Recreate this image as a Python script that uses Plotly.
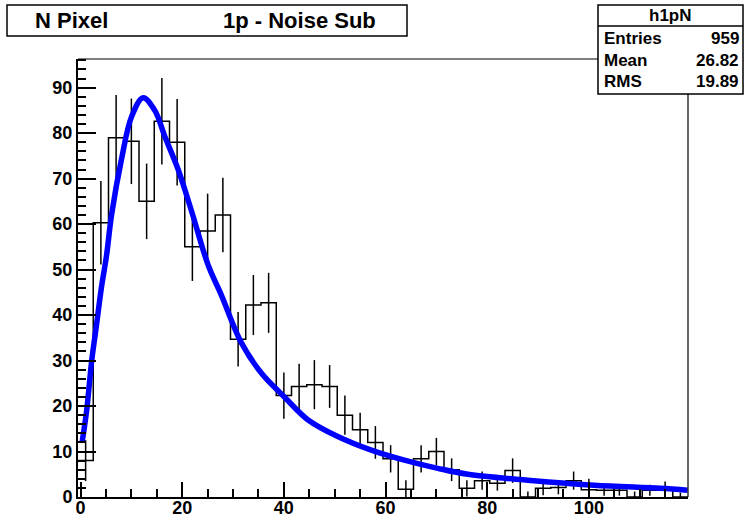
import plotly.graph_objects as go

# ---------------- data ----------------
bin_start = -0.5
bin_width = 3.0
counts = [8, 60.3, 79, 78.2, 65, 82.6, 78, 55, 58.5, 62,
          34.7, 42.2, 42.7, 22.3, 24.3, 24.7, 24.3, 18, 14.8, 12,
          8.4, 1.7, 8.4, 10, 6, 1.9, 3.6, 3.0, 5.8, 0,
          1.9, 2.1, 3.6, 1.6, 1.5, 1.5, 0, 1.5, 1.5, 0]
errors = [4.5, 9.2, 9.4, 9.4, 8.3, 9.5, 9.5, 7.5, 8.2, 8.2,
          6.0, 6.6, 6.6, 5.1, 5.0, 5.4, 4.7, 4.3, 3.7, 3.6,
          3.0, 2.0, 3.0, 3.0, 2.5, 1.8, 2.0, 1.6, 2.7, 1.2,
          1.5, 1.5, 2.0, 2.4, 1.2, 1.2, 1.2, 1.2, 1.9, 1.0]
fit_x = [0.3, 1.2, 2.2, 3.1, 4.1, 5.1, 6.1, 8.1, 10.0, 12.3, 14.6, 16.6,
         19.2, 21.8, 25.1, 27.7, 31.6, 35.6, 40.1, 44.7, 50.6, 57.2,
         63.7, 70.3, 76.2, 88.0, 101.0, 114.0, 119.4]
fit_y = [12, 19, 30, 37.5, 46, 53, 62, 74.5, 83.5, 87.8, 85, 79.2,
         72, 63, 51, 44.4, 34, 27.2, 22, 17, 13.3, 10.3,
         8.1, 6.3, 5.0, 3.7, 2.6, 1.9, 1.5]
x_ticks = [0, 20, 40, 60, 80, 100]
y_ticks = [0, 10, 20, 30, 40, 50, 60, 70, 80, 90]
title_left = "N Pixel"
title_right = "1p - Noise Sub"
stats_name = "h1pN"
stats_labels = ["Entries", "Mean", "RMS"]
stats_values = ["959", "26.82", "19.89"]

# ---------------- figure ----------------
n = len(counts)
edges = [bin_start + i * bin_width for i in range(n + 1)]
centers = [bin_start + (i + 0.5) * bin_width for i in range(n)]

W, H = 745, 520
ML, MR, MT, MB = 78, 57, 59, 23
PW, PH = W - ML - MR, H - MT - MB


def px(x):
    return (x - ML) / PW


def py(y):
    return (H - MB - y) / PH


fig = go.Figure()
fig.add_trace(go.Scatter(x=edges, y=counts + [counts[-1]], mode="lines",
                         line=dict(shape="hv", color="black", width=1.5),
                         hoverinfo="skip"))
fig.add_trace(go.Scatter(x=centers, y=counts, mode="markers",
                         marker=dict(size=1, color="rgba(0,0,0,0)"),
                         error_y=dict(type="data", array=errors, width=0,
                                      thickness=1.5, color="black"),
                         hoverinfo="skip"))
fig.add_trace(go.Scatter(x=fit_x, y=fit_y, mode="lines",
                         line=dict(shape="spline", color="#0000ff", width=5.5),
                         hoverinfo="skip"))

tickfont = dict(family="Liberation Sans", size=18, color="black", weight="bold")
fig.update_layout(
    width=W, height=H,
    margin=dict(l=ML, r=MR, t=MT, b=MB, autoexpand=False),
    paper_bgcolor="white", plot_bgcolor="white", showlegend=False,
    xaxis=dict(range=[-0.5, 119.5], tickmode="array", tickvals=x_ticks,
               ticktext=[str(v) for v in x_ticks],
               ticks="inside", ticklen=15, tickwidth=1.5, tickcolor="black",
               showline=True, linecolor="black", linewidth=2,
               showgrid=False, zeroline=False, tickfont=tickfont,
               automargin=False, ticklabelstandoff=-7,
               minor=dict(tickmode="linear", tick0=0, dtick=5, ticks="inside",
                          ticklen=8, tickwidth=1.5, tickcolor="black",
                          showgrid=False)),
    yaxis=dict(range=[0, 96.3], tickmode="array", tickvals=y_ticks,
               ticktext=[str(v) for v in y_ticks],
               ticks="inside", ticklen=18, tickwidth=1.5, tickcolor="black",
               showline=True, linecolor="black", linewidth=2,
               showgrid=False, zeroline=False, tickfont=tickfont,
               automargin=False,
               minor=dict(tickmode="linear", tick0=0, dtick=2, ticks="inside",
                          ticklen=8, tickwidth=1.5, tickcolor="black",
                          showgrid=False)),
)

shapes = []
# top and right frame lines
shapes.append(dict(type="line", xref="paper", yref="paper", x0=0, x1=1, y0=1, y1=1,
                   line=dict(color="black", width=1.2)))
shapes.append(dict(type="line", xref="paper", yref="paper", x0=1, x1=1, y0=0, y1=1,
                   line=dict(color="black", width=1.2)))
# title box
shapes.append(dict(type="rect", xref="paper", yref="paper",
                   x0=px(7), x1=px(407), y0=py(36), y1=py(5),
                   line=dict(color="black", width=1.5), fillcolor="white"))
# stats box
shapes.append(dict(type="rect", xref="paper", yref="paper",
                   x0=px(598), x1=px(743), y0=py(94), y1=py(5),
                   line=dict(color="black", width=1.5), fillcolor="white"))
shapes.append(dict(type="line", xref="paper", yref="paper",
                   x0=px(598), x1=px(743), y0=py(26), y1=py(26),
                   line=dict(color="black", width=1.5)))
fig.update_layout(shapes=shapes)

tfont = dict(family="Liberation Sans", size=22, color="black", weight="bold")
sfont = dict(family="Liberation Sans", size=17, color="black", weight="bold")
ann = []
ann.append(dict(text=title_left, x=px(71.5), y=py(21), xref="paper", yref="paper",
                showarrow=False, xanchor="center", yanchor="middle", font=tfont))
ann.append(dict(text=title_right, x=px(299), y=py(21), xref="paper", yref="paper",
                showarrow=False, xanchor="center", yanchor="middle", font=tfont))
ann.append(dict(text=stats_name, x=px(670), y=py(15.5), xref="paper", yref="paper",
                showarrow=False, xanchor="center", yanchor="middle", font=sfont))
rows_y = [39, 60.5, 81.5]
for lab, val, yy in zip(stats_labels, stats_values, rows_y):
    ann.append(dict(text=lab, x=px(602), y=py(yy), xref="paper", yref="paper",
                    showarrow=False, xanchor="left", yanchor="middle", font=sfont))
    ann.append(dict(text=val, x=px(741), y=py(yy), xref="paper", yref="paper",
                    showarrow=False, xanchor="right", yanchor="middle", font=sfont))
fig.update_layout(annotations=ann)

fig.write_html("out.html")
